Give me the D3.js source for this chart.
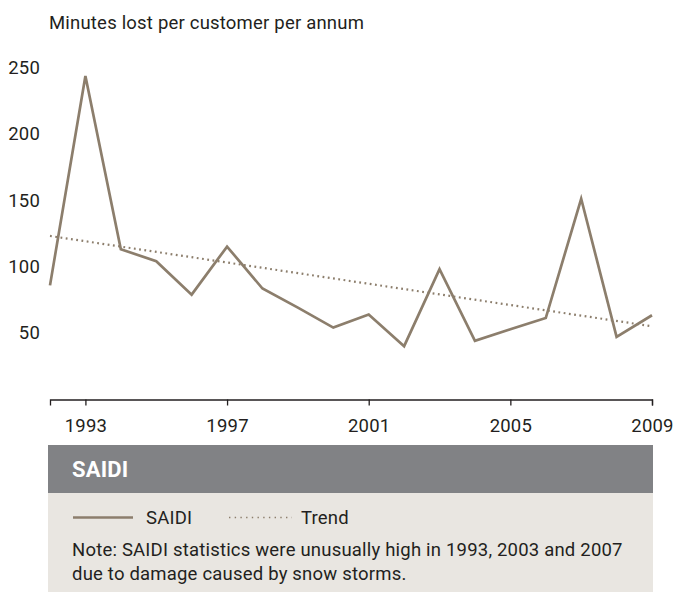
<!DOCTYPE html>
<html>
<head>
<meta charset="utf-8">
<script src="https://cdn.jsdelivr.net/npm/d3@7"></script>
<style>
  html, body { margin: 0; padding: 0; background: #fff; }
  svg { display: block; }
  text { font-family: Roboto, "Noto Sans", sans-serif; fill: #231f20; letter-spacing: 0.2px; }
</style>
</head>
<body>
<svg id="chart" width="673" height="592"></svg>
<script>
// SAIDI: minutes lost per customer per annum, 1992–2009
const years = [1992, 1993, 1994, 1995, 1996, 1997, 1998, 1999, 2000,
               2001, 2002, 2003, 2004, 2005, 2006, 2007, 2008, 2009];
const saidi = [85.8, 243.5, 113, 104, 78.8, 115, 83.4, 69, 54,
               63.8, 40, 98, 44, 52.7, 61.2, 151, 47, 63.3];
// Linear trend, start and end values
const trendYears = [1992, 2009];
const trendValues = [123, 55];

const xTicks = [1993, 1997, 2001, 2005, 2009];
const yTicks = [50, 100, 150, 200, 250];

const yTitle = "Minutes lost per customer per annum";
const panelTitle = "SAIDI";
const legendLabels = ["SAIDI", "Trend"];
const noteLines = [
  "Note: SAIDI statistics were unusually high in 1993, 2003 and 2007",
  "due to damage caused by snow storms."
];

const lineColor = "#8c7e6c";
const fontSize = 18.5;
const svg = d3.select("#chart");

const x = d3.scaleLinear().domain([1992, 2009]).range([50, 652]);
const y = d3.scaleLinear().domain([0, 250]).range([399.3, 67.3]);

// axis title
svg.append("text")
  .attr("x", 49).attr("y", 29)
  .attr("font-size", fontSize)
  .text(yTitle);

// y tick labels (no axis line)
svg.append("g").selectAll("text")
  .data(yTicks).join("text")
  .attr("x", 40)
  .attr("y", d => y(d))
  .attr("dy", "0.35em")
  .attr("text-anchor", "end")
  .attr("font-size", fontSize)
  .text(d => d);

// x axis
const xAxis = d3.axisBottom(x)
  .tickValues(xTicks)
  .tickFormat(d3.format("d"))
  .tickSize(6)
  .tickSizeOuter(6)
  .tickPadding(13);
const gx = svg.append("g")
  .attr("transform", "translate(0,399.5)")
  .call(xAxis);
gx.selectAll("path, line").attr("stroke", "#231f20").attr("stroke-width", 1.3);
gx.selectAll("text")
  .attr("font-size", fontSize)
  .attr("font-family", "Roboto, 'Noto Sans', sans-serif")
  .attr("fill", "#231f20");

// trend line (dotted)
svg.append("path")
  .datum(trendYears.map((t, i) => [t, trendValues[i]]))
  .attr("fill", "none")
  .attr("stroke", lineColor)
  .attr("stroke-width", 2.2)
  .attr("stroke-dasharray", "1.8,3.5")
  .attr("d", d3.line().x(d => x(d[0])).y(d => y(d[1])));

// SAIDI line
svg.append("path")
  .datum(years.map((t, i) => [t, saidi[i]]))
  .attr("fill", "none")
  .attr("stroke", lineColor)
  .attr("stroke-width", 2.7)
  .attr("stroke-linejoin", "miter")
  .attr("d", d3.line().x(d => x(d[0])).y(d => y(d[1])));

// header band
svg.append("rect")
  .attr("x", 48).attr("y", 445)
  .attr("width", 605).attr("height", 48)
  .attr("fill", "#818285");
svg.append("text")
  .attr("x", 72).attr("y", 477)
  .attr("font-size", 22)
  .attr("font-weight", 700)
  .style("fill", "#ffffff")
  .text(panelTitle);

// legend/note panel
svg.append("rect")
  .attr("x", 48).attr("y", 493)
  .attr("width", 605).attr("height", 99)
  .attr("fill", "#e9e6e1");

svg.append("line")
  .attr("x1", 73).attr("x2", 133)
  .attr("y1", 517.5).attr("y2", 517.5)
  .attr("stroke", lineColor).attr("stroke-width", 2.4);
svg.append("text")
  .attr("x", 146).attr("y", 523.5)
  .attr("font-size", fontSize)
  .text(legendLabels[0]);

svg.append("line")
  .attr("x1", 229).attr("x2", 292)
  .attr("y1", 517.5).attr("y2", 517.5)
  .attr("stroke", lineColor).attr("stroke-width", 1.6)
  .attr("stroke-dasharray", "1.4,4.3");
svg.append("text")
  .attr("x", 301).attr("y", 523.5)
  .attr("font-size", fontSize)
  .text(legendLabels[1]);

svg.append("g").selectAll("text")
  .data(noteLines).join("text")
  .attr("x", 72)
  .attr("y", (d, i) => 556 + i * 24)
  .attr("font-size", fontSize)
  .text(d => d);
</script>
</body>
</html>
